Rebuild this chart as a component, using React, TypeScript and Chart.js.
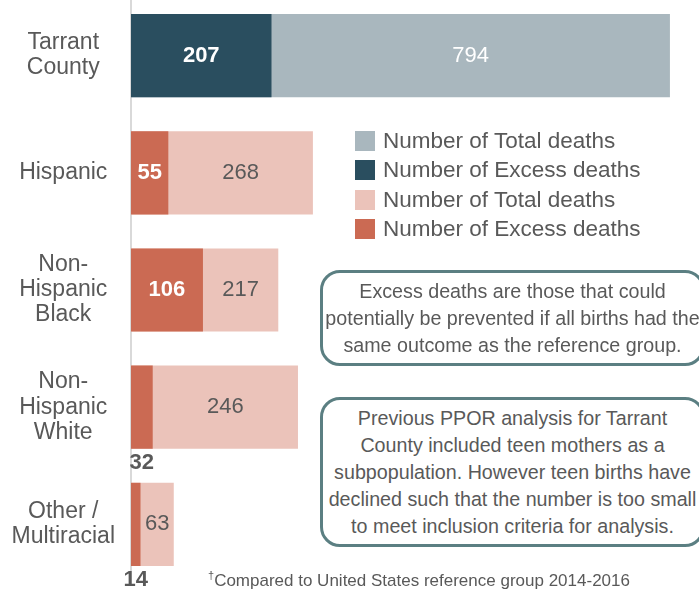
import React, { useEffect, useRef } from "react";
import { Chart, registerables } from "chart.js";

Chart.register(...registerables);

const categories: string[][] = [
  ["Tarrant", "County"],
  ["Hispanic"],
  ["Non-", "Hispanic", "Black"],
  ["Non-", "Hispanic", "White"],
  ["Other /", "Multiracial"],
];
const excessDeaths = [207, 55, 106, 32, 14];
const totalDeaths = [794, 268, 217, 246, 63];
const excessColors = ["#2A4E5F", "#CB6A53", "#CB6A53", "#CB6A53", "#CB6A53"];
const totalColors = ["#A9B7BE", "#EBC3BA", "#EBC3BA", "#EBC3BA", "#EBC3BA"];
const legendItems = [
  { label: "Number of Total deaths", color: "#A9B7BE" },
  { label: "Number of Excess deaths", color: "#2A4E5F" },
  { label: "Number of Total deaths", color: "#EBC3BA" },
  { label: "Number of Excess deaths", color: "#CB6A53" },
];
const note1 = [
  "Excess deaths are those that could",
  "potentially be prevented if all births had the",
  "same outcome as the reference group.",
];
const note2 = [
  "Previous PPOR analysis for Tarrant",
  "County included teen mothers as a",
  "subpopulation. However teen births have",
  "declined such that the number is too small",
  "to meet inclusion criteria for analysis.",
];
const footnote = "Compared to United States reference group 2014-2016";

const FONT = "'Liberation Sans', Arial, sans-serif";
const GRAY = "#595959";

const labelPlugin = {
  id: "valueLabels",
  afterDatasetsDraw(chart: any) {
    const ctx = chart.ctx;
    const mEx = chart.getDatasetMeta(0);
    const mTot = chart.getDatasetMeta(1);
    ctx.save();
    ctx.textBaseline = "middle";
    ctx.textAlign = "center";
    for (let i = 0; i < excessDeaths.length; i++) {
      const ex = mEx.data[i] as any;
      const tot = mTot.data[i] as any;
      ctx.font = `bold 22px ${FONT}`;
      const exW = ex.x - ex.base;
      const txt = String(excessDeaths[i]);
      if (ctx.measureText(txt).width + 6 < exW) {
        ctx.fillStyle = "#FFFFFF";
        ctx.fillText(txt, (ex.x + ex.base) / 2, ex.y);
      } else {
        ctx.fillStyle = GRAY;
        ctx.fillText(txt, (ex.x + ex.base) / 2, ex.y + ex.height / 2 + 14);
      }
      ctx.font = `22px ${FONT}`;
      ctx.fillStyle = i === 0 ? "#FFFFFF" : GRAY;
      ctx.fillText(String(totalDeaths[i]), (ex.x + tot.x) / 2, tot.y);
    }
    ctx.restore();
  },
};

export default function App() {
  const ref = useRef<HTMLCanvasElement>(null);
  useEffect(() => {
    if (!ref.current) return;
    const chart = new Chart(ref.current, {
      type: "bar",
      data: {
        labels: categories,
        datasets: [
          {
            label: "Number of Excess deaths",
            data: excessDeaths,
            backgroundColor: excessColors,
            borderWidth: 0,
          },
          {
            label: "Number of Total deaths",
            data: totalDeaths,
            backgroundColor: totalColors,
            borderWidth: 0,
          },
        ],
      },
      options: {
        indexAxis: "y",
        responsive: false,
        animation: false,
        layout: { padding: { top: 0, right: 25, bottom: 17, left: 0 } },
        datasets: {
          bar: { grouped: false, categoryPercentage: 1, barPercentage: 0.71 },
        },
        plugins: {
          legend: { display: false },
          tooltip: { enabled: false },
        },
        scales: {
          x: {
            display: false,
            min: 0,
            max: 800,
          },
          y: {
            afterFit: (scale: any) => {
              scale.width = 131;
              scale.paddingTop = 0;
              scale.paddingBottom = 0;
            },
            grid: { display: true, drawOnChartArea: false, drawTicks: false },
            border: { display: true, color: "#D9D9D9", width: 2 },
            ticks: {
              crossAlign: "center",
              padding: 16,
              color: GRAY,
              font: { family: FONT, size: 23, lineHeight: 1.09 },
            },
          },
        },
      },
      plugins: [labelPlugin],
    } as any);
    return () => chart.destroy();
  }, []);

  const boxStyle: React.CSSProperties = {
    position: "absolute",
    left: 320,
    width: 385,
    boxSizing: "border-box",
    border: "3.5px solid #5B7F82",
    borderRadius: 20,
    display: "flex",
    flexDirection: "column",
    justifyContent: "center",
    alignItems: "center",
    textAlign: "center",
    fontFamily: FONT,
    fontSize: 19.7,
    lineHeight: "27px",
    color: GRAY,
    whiteSpace: "nowrap",
    background: "#FFFFFF",
  };

  return (
    <div
      style={{
        position: "fixed",
        left: 0,
        top: 0,
        width: 699,
        height: 591,
        overflow: "hidden",
        background: "#FFFFFF",
      }}
    >
      <canvas
        ref={ref}
        width={699}
        height={603}
        style={{ position: "absolute", left: 0, top: -3, width: 699, height: 603, display: "block" }}
      />
      <div style={{ position: "absolute", left: 355, top: 126 }}>
        {legendItems.map((it, i) => (
          <div
            key={i}
            style={{
              display: "flex",
              alignItems: "center",
              height: 29.5,
              fontFamily: FONT,
              fontSize: 22.5,
              color: GRAY,
              whiteSpace: "nowrap",
            }}
          >
            <span
              style={{ width: 20, height: 20, background: it.color, marginRight: 8, display: "inline-block" }}
            />
            <span>{it.label}</span>
          </div>
        ))}
      </div>
      <div style={{ ...boxStyle, top: 270, height: 96 }}>
        {note1.map((l, i) => (
          <div key={i}>{l}</div>
        ))}
      </div>
      <div style={{ ...boxStyle, top: 397, height: 150 }}>
        {note2.map((l, i) => (
          <div key={i}>{l}</div>
        ))}
      </div>
      <div
        style={{
          position: "absolute",
          left: 208,
          top: 569,
          fontFamily: FONT,
          fontSize: 17,
          color: GRAY,
          whiteSpace: "nowrap",
        }}
      >
        <sup style={{ fontSize: 11 }}>†</sup>
        {footnote}
      </div>
    </div>
  );
}
